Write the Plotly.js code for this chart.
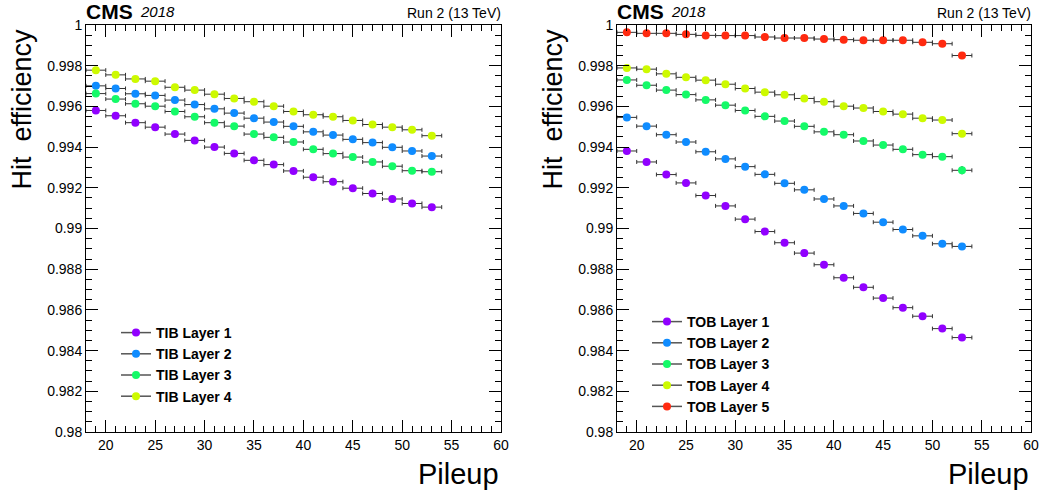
<!DOCTYPE html>
<html>
<head>
<meta charset="utf-8">
<script src="https://cdn.plot.ly/plotly-3.0.1.min.js"></script>
<style>html,body{margin:0;padding:0;background:#fff;}#chart{width:1041px;height:494px;}</style>
</head>
<body>
<div id="chart"></div>
<script>
// ---------------- data ----------------
const pileup = [19, 21, 23, 25, 27, 29, 31, 33, 35, 37, 39, 41, 43, 45, 47, 49, 51, 53];
const binHalfWidth = 1;

const tibNames = ["TIB Layer 1", "TIB Layer 2", "TIB Layer 3", "TIB Layer 4"];
const tib1 = [0.99580,0.99554,0.99520,0.99498,0.99464,0.99433,0.99400,0.99369,0.99335,0.99314,0.99283,0.99252,0.99230,0.99198,0.99172,0.99145,0.99123,0.99105];
const tib2 = [0.99701,0.99688,0.99662,0.99654,0.99631,0.99609,0.99588,0.99567,0.99542,0.99523,0.99502,0.99475,0.99459,0.99438,0.99422,0.99399,0.99381,0.99356];
const tib3 = [0.99663,0.99636,0.99613,0.99601,0.99575,0.99549,0.99520,0.99503,0.99464,0.99448,0.99425,0.99389,0.99368,0.99351,0.99327,0.99306,0.99284,0.99279];
const tib4 = [0.99778,0.99755,0.99735,0.99724,0.99694,0.99680,0.99660,0.99639,0.99623,0.99601,0.99575,0.99559,0.99549,0.99531,0.99511,0.99498,0.99485,0.99456];

const tobNames = ["TOB Layer 1", "TOB Layer 2", "TOB Layer 3", "TOB Layer 4", "TOB Layer 5"];
const tob1 = [0.99381,0.99327,0.99265,0.99224,0.99162,0.99111,0.99046,0.98985,0.98930,0.98879,0.98822,0.98758,0.98711,0.98658,0.98611,0.98569,0.98508,0.98464];
const tob2 = [0.99546,0.99503,0.99461,0.99425,0.99377,0.99342,0.99304,0.99266,0.99222,0.99190,0.99145,0.99111,0.99074,0.99031,0.98995,0.98964,0.98925,0.98912];
const tob3 = [0.99730,0.99704,0.99680,0.99658,0.99632,0.99606,0.99580,0.99551,0.99528,0.99502,0.99475,0.99461,0.99430,0.99410,0.99389,0.99363,0.99353,0.99286];
const tob4 = [0.99789,0.99783,0.99760,0.99743,0.99729,0.99709,0.99688,0.99670,0.99657,0.99639,0.99623,0.99601,0.99592,0.99575,0.99562,0.99542,0.99533,0.99466];
const tob5 = [0.99964,0.99959,0.99959,0.99954,0.99949,0.99948,0.99948,0.99941,0.99936,0.99936,0.99931,0.99928,0.99925,0.99925,0.99925,0.99915,0.99908,0.99850];
const tob3YErr = [0,0,0,0,0,0,0,0,0,0,0,0,0,0,0,0,0,0.0002];

const layerColors = ["#9100ff", "#0f8cff", "#14fa68", "#cdfa00", "#ff2a10"];

const yTickVals = [0.98, 0.982, 0.984, 0.986, 0.988, 0.99, 0.992, 0.994, 0.996, 0.998, 1];
const yTickText = ["0.98", "0.982", "0.984", "0.986", "0.988", "0.99", "0.992", "0.994", "0.996", "0.998", "1"];
const xTickVals = [20, 25, 30, 35, 40, 45, 50, 55, 60];
const xTickText = ["20", "25", "30", "35", "40", "45", "50", "55", "60"];

// ---------------- geometry helpers ----------------
const W = 1041, H = 494;
const px = v => v / W;
const py = v => 1 - v / H;
const FONT = "Liberation Sans, Arial, Helvetica, sans-serif";

function series(xa, ya, name, y, color, legendId, yerr) {
  const data = {
    type: "scatter", mode: "markers", x: pileup, y: y, xaxis: xa, yaxis: ya,
    name: name, showlegend: false, hoverinfo: "x+y+name",
    marker: { color: color, size: 8, line: { width: 0 } },
    error_x: { type: "constant", value: binHalfWidth, color: "#333", thickness: 1, width: 2 }
  };
  if (yerr) data.error_y = { type: "data", array: yerr, color: "#222", thickness: 1.5, width: 0 };
  else data.error_y = { visible: false };
  const leg = {
    type: "scatter", mode: "lines+markers", x: [null], y: [null], xaxis: xa, yaxis: ya,
    name: name, legend: legendId, showlegend: true,
    line: { color: "#555", width: 1.5 },
    marker: { color: color, size: 8 }
  };
  return [data, leg];
}

const traces = [];
[tib1, tib2, tib3, tib4].forEach((y, i) => traces.push(...series("x", "y", tibNames[i], y, layerColors[i], "legend")));
[tob1, tob2, tob3, tob4, tob5].forEach((y, i) => traces.push(...series("x2", "y2", tobNames[i], y, layerColors[i], "legend2", i === 2 ? tob3YErr : null)));

function xAxis(domain, anchor) {
  return {
    domain: domain, anchor: anchor, range: [18, 60],
    tickvals: xTickVals, ticktext: xTickText,
    ticks: "inside", ticklen: 12, tickwidth: 1, tickcolor: "#000",
    minor: { dtick: 1, tick0: 18, ticks: "inside", ticklen: 6, tickwidth: 1, tickcolor: "#000" },
    showline: true, linecolor: "#000", linewidth: 1, mirror: "allticks",
    showgrid: false, zeroline: false,
    tickfont: { family: FONT, size: 14, color: "#000" }
  };
}
function yAxis(domain, anchor) {
  return {
    domain: domain, anchor: anchor, range: [0.98, 1],
    tickvals: yTickVals, ticktext: yTickText,
    ticks: "inside", ticklen: 12, tickwidth: 1, tickcolor: "#000",
    minor: { dtick: 0.0005, tick0: 0.98, ticks: "inside", ticklen: 6, tickwidth: 1, tickcolor: "#000" },
    showline: true, linecolor: "#000", linewidth: 1, mirror: "allticks",
    showgrid: false, zeroline: false,
    tickfont: { family: FONT, size: 14, color: "#000" }
  };
}

const yDom = [py(432), py(25)];
const leftX = [px(86), px(501)];
const rightX = [px(617), px(1031)];

function panelText(xl, xr) {
  return [
    { text: "<b>CMS</b>", x: px(xl - 2), y: py(11), xanchor: "left", yanchor: "middle", font: { family: FONT, size: 21, color: "#000" } },
    { text: "<i>2018</i>", x: px(xl + 52), y: py(11.5), xanchor: "left", yanchor: "middle", font: { family: FONT, size: 15, color: "#000" } },
    { text: "Run 2 (13 TeV)", x: px(xr + 2), y: py(12.5), xanchor: "right", yanchor: "middle", font: { family: FONT, size: 14, color: "#000" } },
    { text: "Hit  efficiency", x: px(xl - 65), y: py(27), xanchor: "center", yanchor: "top", textangle: -90, font: { family: FONT, size: 27, color: "#000" } },
    { text: "Pileup", x: px(xr), y: py(474), xanchor: "right", yanchor: "middle", font: { family: FONT, size: 29, color: "#000" } }
  ].map(a => Object.assign({ xref: "paper", yref: "paper", showarrow: false }, a));
}

const legendFont = { family: FONT, size: 14, color: "#000", weight: "bold" };
const layout = {
  width: W, height: H,
  margin: { l: 0, r: 0, t: 0, b: 0 },
  paper_bgcolor: "#fff", plot_bgcolor: "#fff",
  font: { family: FONT, color: "#000" },
  xaxis: xAxis(leftX, "y"),
  yaxis: yAxis(yDom, "x"),
  xaxis2: xAxis(rightX, "y2"),
  yaxis2: yAxis(yDom, "x2"),
  legend: { x: px(116), y: py(317), xanchor: "left", yanchor: "top", bgcolor: "rgba(0,0,0,0)", borderwidth: 0, font: legendFont, tracegroupgap: 0 },
  legend2: { x: px(647), y: py(306), xanchor: "left", yanchor: "top", bgcolor: "rgba(0,0,0,0)", borderwidth: 0, font: legendFont, tracegroupgap: 0 },
  annotations: [...panelText(86, 501), ...panelText(617, 1031)],
  showlegend: true
};

Plotly.newPlot("chart", traces, layout, { staticPlot: true, displayModeBar: false });
</script>
</body>
</html>
